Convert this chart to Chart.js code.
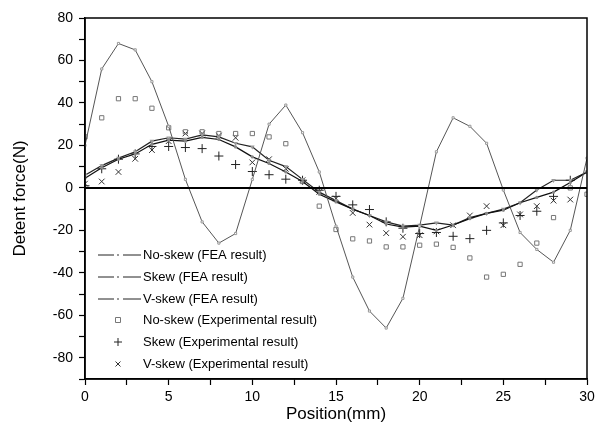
<!DOCTYPE html>
<html>
<head>
<meta charset="utf-8">
<script src="https://cdn.jsdelivr.net/npm/chart.js@4"></script>
<style>
  body { margin: 0; background: #fff; }
  #wrap { width: 603px; height: 434px; }
</style>
</head>
<body>
<div id="wrap"><canvas id="detentChart"></canvas></div>
<script>
const positions = [0,1,2,3,4,5,6,7,8,9,10,11,12,13,14,15,16,17,18,19,20,21,22,23,24,25,26,27,28,29,30];
const noSkewFEA = [20,56,68,65,50,29,4,-16,-26,-21.5,4,30,39,26,7.5,-18,-42,-58,-66,-52,-18,17,33,29,21,-1,-21,-29,-35,-20,14];
const skewFEA = [4.5,9.5,13.5,16,20.5,22.5,22,23.8,22.8,19.3,14.6,11.5,7.5,3,-3,-6.6,-10,-13,-17,-18.5,-18,-20,-17.5,-14.5,-12,-10.5,-7,-4.5,-2,2.5,7.5];
const vSkewFEA = [6,10.5,14,17,22,23.6,23,25,24,21,19.3,13,10,4,-2,-6,-10,-13,-16,-18,-17.5,-16.5,-17.5,-14,-12,-10,-7,-1,3.6,3.6,7.5];
const noSkewExp = [24,33,42,42,37.5,28.3,26.4,26.4,25.6,25.6,25.6,24,20.8,3,-8.6,-19.6,-24,-25,-27.8,-27.8,-27,-26.5,-28,-33,-42,-40.7,-36,-26,-14,0,-3];
const skewExp = [1,9,13.5,16,19.5,19.5,19,18.5,15,11,7.7,6.2,4.1,3.6,-1.1,-4,-8,-10.2,-16,-19,-21.5,-21,-22.8,-23.9,-20,-16.5,-13,-11,-4,3.6,null];
const vSkewExp = [2,3,7.5,13.7,17.8,22,25.6,25.6,24.6,23.6,12,13.5,9,3.6,-1.9,-5,-11.8,-17.3,-21.3,-23,-22.3,-20.5,-17.6,-13,-8.6,-17.6,-12.5,-8.6,-6,-5.5,null];
const yLabels = [80,60,40,20,0,-20,-40,-60,-80];
const xLabels = [0,5,10,15,20,25,30];

const pts = arr => positions.map((x, i) => ({x: x, y: arr[i]}));

// frame, zero line and legend drawn inside the plot
const framePlugin = {
  id: 'frame',
  afterDatasetsDraw(chart) {
    const {ctx, chartArea: a, scales} = chart;
    ctx.save();
    ctx.strokeStyle = '#000';
    ctx.lineWidth = 1.5;
    ctx.strokeRect(a.left, a.top, a.right - a.left, a.bottom - a.top);
    const y0 = scales.y.getPixelForValue(0);
    ctx.lineWidth = 2;
    ctx.beginPath();
    ctx.moveTo(a.left, y0);
    ctx.lineTo(a.right, y0);
    ctx.stroke();

    // legend
    const rows = [255, 277, 299, 320, 342, 364];
    ctx.font = '13px "Liberation Sans", Arial, sans-serif';
    ctx.textBaseline = 'middle';
    chart.data.datasets.forEach((ds, i) => {
      const y = rows[i];
      if (ds.showLine) {
        ctx.strokeStyle = '#222';
        ctx.lineWidth = 1;
        ctx.beginPath();
        ctx.moveTo(98, y); ctx.lineTo(114, y);
        ctx.moveTo(123, y); ctx.lineTo(141, y);
        ctx.stroke();
        ctx.fillStyle = '#999';
        ctx.fillRect(117, y - 1, 2, 2);
      } else {
        ctx.strokeStyle = ds.pointBorderColor;
        ctx.lineWidth = 1;
        const cx = 118, r = 2.5;
        ctx.beginPath();
        if (ds.pointStyle === 'rect') {
          ctx.rect(cx - 2.5, y - 2.5, 5, 5);
        } else if (ds.pointStyle === 'cross') {
          ctx.moveTo(cx - 4, y); ctx.lineTo(cx + 4, y);
          ctx.moveTo(cx, y - 4); ctx.lineTo(cx, y + 4);
        } else {
          ctx.moveTo(cx - r, y - r); ctx.lineTo(cx + r, y + r);
          ctx.moveTo(cx - r, y + r); ctx.lineTo(cx + r, y - r);
        }
        ctx.stroke();
      }
      ctx.fillStyle = '#000';
      ctx.fillText(ds.label, 143, y);
    });
    ctx.restore();
  }
};

new Chart(document.getElementById('detentChart'), {
  type: 'scatter',
  data: {
    datasets: [
      {
        label: 'No-skew (FEA result)',
        data: pts(noSkewFEA),
        showLine: true,
        borderColor: '#555',
        borderWidth: 1,
        pointStyle: 'rect',
        pointRadius: 1.5,
        pointBackgroundColor: '#fff',
        pointBorderColor: '#999',
        pointBorderWidth: 1
      },
      {
        label: 'Skew (FEA result)',
        data: pts(skewFEA),
        showLine: true,
        borderColor: '#111',
        borderWidth: 1.2,
        pointRadius: 1,
        pointBackgroundColor: '#888',
        pointBorderColor: '#888'
      },
      {
        label: 'V-skew (FEA result)',
        data: pts(vSkewFEA),
        showLine: true,
        borderColor: '#222',
        borderWidth: 1.2,
        pointStyle: 'triangle',
        pointRotation: 180,
        pointRadius: 1.5,
        pointBackgroundColor: '#fff',
        pointBorderColor: '#999'
      },
      {
        label: 'No-skew (Experimental result)',
        data: pts(noSkewExp),
        showLine: false,
        pointStyle: 'rect',
        pointRadius: 3,
        pointBackgroundColor: 'rgba(0,0,0,0)',
        pointBorderColor: '#777',
        pointBorderWidth: 1
      },
      {
        label: 'Skew (Experimental result)',
        data: pts(skewExp),
        showLine: false,
        pointStyle: 'cross',
        pointRadius: 4.5,
        pointBorderColor: '#222',
        pointBorderWidth: 1
      },
      {
        label: 'V-skew (Experimental result)',
        data: pts(vSkewExp),
        showLine: false,
        pointStyle: 'crossRot',
        pointRadius: 4,
        pointBorderColor: '#333',
        pointBorderWidth: 1
      }
    ]
  },
  options: {
    responsive: true,
    maintainAspectRatio: false,
    animation: false,
    layout: { padding: { top: 18, right: 16, left: 10, bottom: 0 } },
    plugins: { legend: { display: false }, tooltip: { enabled: false } },
    scales: {
      x: {
        type: 'linear',
        min: 0,
        max: 30,
        afterFit(scale) { scale.height = 55; },
        afterBuildTicks(scale) {
          const t = [];
          for (let v = 0; v <= 30; v += 2.5) t.push({value: v});
          scale.ticks = t;
        },
        ticks: {
          color: '#000',
          font: { size: 14, family: '"Liberation Sans", Arial, sans-serif' },
          padding: 4,
          maxRotation: 0,
          autoSkip: false,
          callback: v => xLabels.includes(v) ? String(v) : ''
        },
        grid: { drawOnChartArea: false, drawTicks: true, tickLength: 6, color: '#000', tickWidth: 1.2 },
        border: { display: true, color: '#000', width: 1.5 },
        title: {
          display: true,
          text: 'Position(mm)',
          color: '#000',
          font: { size: 17, family: '"Liberation Sans", Arial, sans-serif' },
          padding: { top: 0, bottom: 9 }
        }
      },
      y: {
        min: -90,
        max: 80,
        afterFit(scale) { scale.width = 75; },
        afterBuildTicks(scale) {
          const t = [];
          for (let v = -90; v <= 80; v += 10) t.push({value: v});
          scale.ticks = t;
        },
        ticks: {
          color: '#000',
          font: { size: 14, family: '"Liberation Sans", Arial, sans-serif' },
          padding: 6,
          autoSkip: false,
          callback: v => yLabels.includes(v) ? String(v) : ''
        },
        grid: { drawOnChartArea: false, drawTicks: true, tickLength: 6, color: '#000', tickWidth: 1.2 },
        border: { display: true, color: '#000', width: 1.5 },
        title: {
          display: true,
          text: 'Detent force(N)',
          color: '#000',
          font: { size: 17, family: '"Liberation Sans", Arial, sans-serif' },
          padding: { top: 0, bottom: 8 }
        }
      }
    }
  },
  plugins: [framePlugin]
});
</script>
</body>
</html>
